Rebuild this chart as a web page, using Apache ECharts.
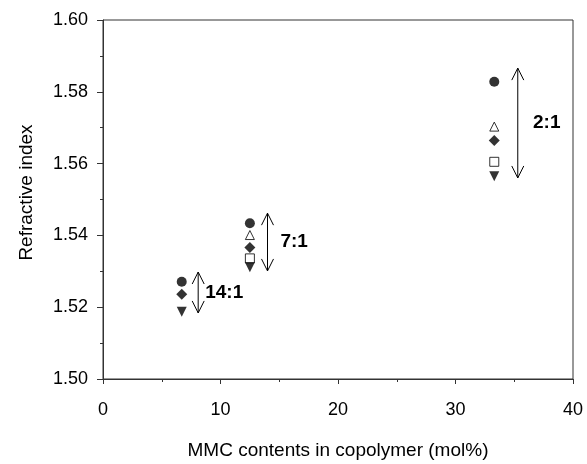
<!DOCTYPE html>
<html>
<head>
<meta charset="utf-8">
<script src="https://cdn.jsdelivr.net/npm/echarts@6/dist/echarts.min.js"></script>
<style>
html,body{margin:0;padding:0;background:#fff;}
#c{width:587px;height:464px;}
</style>
</head>
<body>
<div id="c"></div>
<script>
// MMC content (mol%) for each feed ratio group
var xVals = [6.7, 12.5, 33.3];
// refractive index values per marker type
var circleVals   = [1.5271, 1.5434, 1.5828];
var triUpVals    = [null,   1.5401, 1.5703];
var diamondVals  = [1.5236, 1.5366, 1.5664];
var squareVals   = [null,   1.5336, 1.5605];
var triDownVals  = [1.5187, 1.5311, 1.5565];
// range arrows and ratio labels
var ratioLabels  = ['14:1', '7:1', '2:1'];
var arrowX       = [8.1, 14.0, 35.3];
var arrowTop     = [1.5298, 1.5462, 1.5866];
var arrowBottom  = [1.5184, 1.5301, 1.5560];
var labelX       = [8.7, 15.1, 36.6];
var xTicks = [0, 10, 20, 30, 40];
var yTicks = [1.50, 1.52, 1.54, 1.56, 1.58, 1.60];

function pairs(vals) {
  var out = [];
  for (var i = 0; i < xVals.length; i++) {
    if (vals[i] !== null) out.push([xVals[i], vals[i]]);
  }
  return out;
}
var arrowData = [];
for (var i = 0; i < arrowX.length; i++) {
  arrowData.push([arrowX[i], arrowTop[i], arrowBottom[i], labelX[i], ratioLabels[i]]);
}

var font = '"Liberation Sans", Arial, sans-serif';
var chart = echarts.init(document.getElementById('c'));
function sc(name, vals, symbol, size, hollow, rotate) {
  return {
    type: 'scatter', name: name, data: pairs(vals), symbol: symbol,
    symbolSize: size, symbolRotate: rotate || 0,
    itemStyle: hollow ? {color: '#fff', borderColor: '#000', borderWidth: 1}
                      : {color: '#000'},
    z: 3
  };
}
chart.setOption({
  animation: false,
  grid: {left: 103, right: 14, top: 20, bottom: 85, show: true, outerBoundsMode: 'none',
         containLabel: false,
         borderColor: '#333', borderWidth: 1, backgroundColor: 'transparent'},
  xAxis: {
    type: 'value', min: 0, max: 40, interval: 10,
    name: 'MMC contents in copolymer (mol%)', nameLocation: 'middle', nameGap: 62,
    nameTextStyle: {fontFamily: font, fontSize: 19, color: '#000'},
    axisLine: {show: true, lineStyle: {color: '#333', width: 1}},
    axisTick: {show: true, inside: false, length: 5, lineStyle: {color: '#333'}},
    minorTick: {show: true, splitNumber: 2, length: 3, lineStyle: {color: '#333'}},
    axisLabel: {fontFamily: font, fontSize: 18, color: '#000', margin: 22,
                formatter: function (v) { return xTicks.indexOf(v) >= 0 ? String(v) : ''; }},
    splitLine: {show: false}
  },
  yAxis: {
    type: 'value', min: 1.50, max: 1.60, interval: 0.02,
    name: 'Refractive index', nameLocation: 'middle', nameGap: 67, nameRotate: 90,
    nameTextStyle: {fontFamily: font, fontSize: 19, color: '#000', padding: [0, 0, 0, 14]},
    axisLine: {show: true, lineStyle: {color: '#333', width: 1}},
    axisTick: {show: true, inside: false, length: 6, lineStyle: {color: '#333'}},
    minorTick: {show: true, splitNumber: 2, length: 3, lineStyle: {color: '#333'}},
    axisLabel: {fontFamily: font, fontSize: 18, color: '#000', margin: 15,
                formatter: function (v) { return v.toFixed(2); }},
    splitLine: {show: false}
  },
  series: [
    sc('circle', circleVals, 'circle', 10, false),
    sc('triangle', triUpVals, 'triangle', 9, true),
    sc('diamond', diamondVals, 'diamond', 11, false),
    sc('square', squareVals, 'rect', 9, true),
    sc('inverted triangle', triDownVals, 'triangle', 10, false, 180),
    {
      type: 'custom', name: 'ranges', data: arrowData, z: 2,
      encode: {x: [0, 3], y: [1, 2]},
      renderItem: function (params, api) {
        var x = api.value(0);
        var p1 = api.coord([x, api.value(1)]);
        var p2 = api.coord([x, api.value(2)]);
        var pl = api.coord([api.value(3), api.value(1)]);
        var hw = 6, hl = 12;
        var style = {stroke: '#000', lineWidth: 1, fill: null};
        return {
          type: 'group',
          children: [
            {type: 'line', shape: {x1: p1[0], y1: p1[1], x2: p2[0], y2: p2[1]}, style: style},
            {type: 'polyline', shape: {points: [[p1[0] - hw, p1[1] + hl], [p1[0], p1[1]], [p1[0] + hw, p1[1] + hl]]}, style: style},
            {type: 'polyline', shape: {points: [[p2[0] - hw, p2[1] - hl], [p2[0], p2[1]], [p2[0] + hw, p2[1] - hl]]}, style: style},
            {type: 'text', style: {text: api.value(4), x: pl[0], y: (p1[1] + p2[1]) / 2,
              verticalAlign: 'middle', fill: '#000',
              font: 'bold 19px ' + font}}
          ]
        };
      }
    }
  ]
});
</script>
</body>
</html>
